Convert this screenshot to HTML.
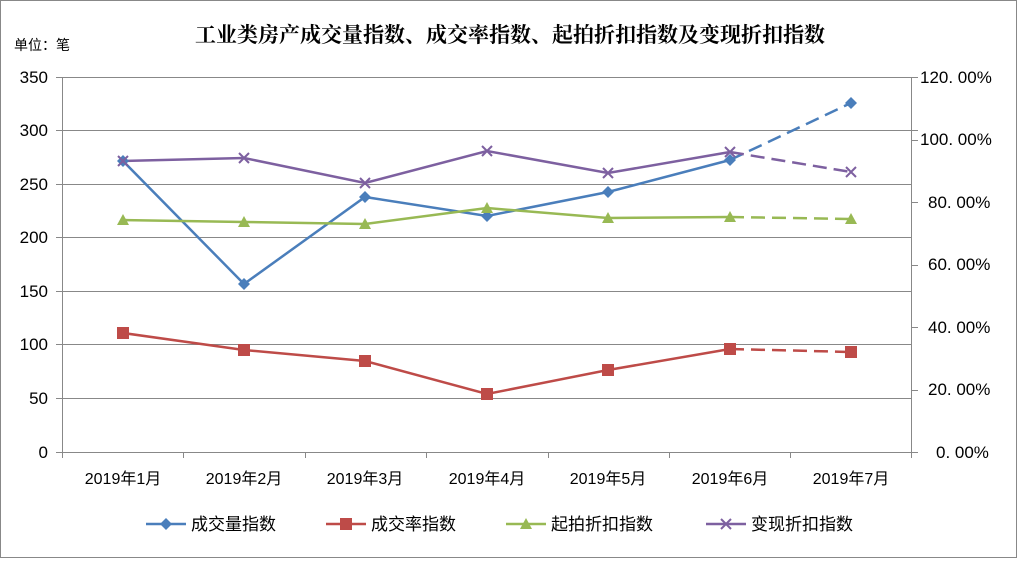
<!DOCTYPE html>
<html><head><meta charset="utf-8"><style>
body{margin:0;background:#fff}
svg text{font-family:"Liberation Sans","Noto Sans CJK SC",sans-serif;fill:#000}
</style></head><body>
<svg width="1017" height="558" xmlns="http://www.w3.org/2000/svg">
<rect x="0.5" y="0.5" width="1016" height="557" fill="#fff" stroke="#888"/>
<text x="510" y="42" font-size="21" font-weight="bold" text-anchor="middle" style="font-family:'Noto Serif CJK SC','Noto Sans CJK SC',serif">工业类房产成交量指数、成交率指数、起拍折扣指数及变现折扣指数</text>
<text x="14" y="50" font-size="14">单位：笔</text>
<g stroke="#888" stroke-width="1">
<line x1="56" y1="77.5" x2="918" y2="77.5"/>
<line x1="56" y1="130.5" x2="918" y2="130.5"/>
<line x1="56" y1="184.5" x2="912" y2="184.5"/>
<line x1="56" y1="237.5" x2="912" y2="237.5"/>
<line x1="56" y1="291.5" x2="912" y2="291.5"/>
<line x1="56" y1="344.5" x2="912" y2="344.5"/>
<line x1="56" y1="398.5" x2="912" y2="398.5"/>
<line x1="56" y1="452.5" x2="918" y2="452.5"/>
<line x1="912" y1="140.5" x2="918" y2="140.5"/>
<line x1="912" y1="202.5" x2="918" y2="202.5"/>
<line x1="912" y1="265.5" x2="918" y2="265.5"/>
<line x1="912" y1="327.5" x2="918" y2="327.5"/>
<line x1="912" y1="390.5" x2="918" y2="390.5"/>
<line x1="62.5" y1="77" x2="62.5" y2="452"/>
<line x1="911.5" y1="77" x2="911.5" y2="452"/>
<line x1="183.5" y1="452" x2="183.5" y2="458"/>
<line x1="305.5" y1="452" x2="305.5" y2="458"/>
<line x1="426.5" y1="452" x2="426.5" y2="458"/>
<line x1="548.5" y1="452" x2="548.5" y2="458"/>
<line x1="669.5" y1="452" x2="669.5" y2="458"/>
<line x1="790.5" y1="452" x2="790.5" y2="458"/>
<line x1="62.5" y1="452" x2="62.5" y2="458"/>
<line x1="911.5" y1="452" x2="911.5" y2="458"/>
</g>
<g font-size="17" text-anchor="end">
<text x="48" y="83">350</text><text x="48" y="136">300</text><text x="48" y="190">250</text>
<text x="48" y="243">200</text><text x="48" y="297">150</text><text x="48" y="350">100</text>
<text x="48" y="404">50</text><text x="48" y="458">0</text>
</g>
<g font-size="17">
<text x="920" y="83">120. 00%</text><text x="920" y="145">100. 00%</text><text x="928" y="208">80. 00%</text>
<text x="928" y="270">60. 00%</text><text x="928" y="333">40. 00%</text><text x="928" y="395">20. 00%</text>
<text x="936" y="458">0. 00%</text>
</g>
<g font-size="16" text-anchor="middle">
<text x="123" y="484">2019年1月</text><text x="244" y="484">2019年2月</text><text x="365" y="484">2019年3月</text>
<text x="487" y="484">2019年4月</text><text x="608" y="484">2019年5月</text><text x="730" y="484">2019年6月</text>
<text x="851" y="484">2019年7月</text>
</g>
<g fill="none" stroke-width="2.5">
<polyline stroke="#4a7ebb" points="123,161 244,284 365,197 487,216 608,192 730,160"/>
<polyline stroke="#4a7ebb" stroke-dasharray="14,7" points="730,160 851,103"/>
<polyline stroke="#be4b48" points="123,333 244,350 365,361 487,394 608,370 730,349"/>
<polyline stroke="#be4b48" stroke-dasharray="14,7" points="730,349 851,352"/>
<polyline stroke="#98b954" points="123,220 244,222 365,224 487,208 608,218 730,217"/>
<polyline stroke="#98b954" stroke-dasharray="14,7" points="730,217 851,219"/>
<polyline stroke="#7d60a0" points="123,161 244,158 365,183 487,151 608,173 730,152"/>
<polyline stroke="#7d60a0" stroke-dasharray="14,7" points="730,152 851,172"/>
</g>
<g fill="#4a7ebb">
<path d="M123,155l6,6-6,6-6-6z"/><path d="M244,278l6,6-6,6-6-6z"/><path d="M365,191l6,6-6,6-6-6z"/><path d="M487,210l6,6-6,6-6-6z"/><path d="M608,186l6,6-6,6-6-6z"/><path d="M730,154l6,6-6,6-6-6z"/><path d="M851,97l6,6-6,6-6-6z"/>
</g>
<g fill="#be4b48">
<rect x="117" y="327" width="12" height="12"/><rect x="238" y="344" width="12" height="12"/><rect x="359" y="355" width="12" height="12"/><rect x="481" y="388" width="12" height="12"/><rect x="602" y="364" width="12" height="12"/><rect x="724" y="343" width="12" height="12"/><rect x="845" y="346" width="12" height="12"/>
</g>
<g fill="#98b954">
<path d="M123,214l6,11h-12z"/><path d="M244,216l6,11h-12z"/><path d="M365,218l6,11h-12z"/><path d="M487,202l6,11h-12z"/><path d="M608,212l6,11h-12z"/><path d="M730,211l6,11h-12z"/><path d="M851,213l6,11h-12z"/>
</g>
<g stroke="#7d60a0" stroke-width="2">
<path d="M118,156l10,10M128,156l-10,10"/><path d="M239,153l10,10M249,153l-10,10"/><path d="M360,178l10,10M370,178l-10,10"/><path d="M482,146l10,10M492,146l-10,10"/><path d="M603,168l10,10M613,168l-10,10"/><path d="M725,147l10,10M735,147l-10,10"/><path d="M846,167l10,10M856,167l-10,10"/>
</g>
<g font-size="17">
<line x1="146" y1="524" x2="186" y2="524" stroke="#4a7ebb" stroke-width="2.5"/><path d="M166,518l6,6-6,6-6-6z" fill="#4a7ebb"/><text x="191" y="530">成交量指数</text>
<line x1="326" y1="524" x2="366" y2="524" stroke="#be4b48" stroke-width="2.5"/><rect x="340" y="518" width="12" height="12" fill="#be4b48"/><text x="371" y="530">成交率指数</text>
<line x1="506" y1="524" x2="546" y2="524" stroke="#98b954" stroke-width="2.5"/><path d="M526,518l6,11h-12z" fill="#98b954"/><text x="551" y="530">起拍折扣指数</text>
<line x1="706" y1="524" x2="746" y2="524" stroke="#7d60a0" stroke-width="2.5"/><path d="M721,519l10,10M731,519l-10,10" stroke="#7d60a0" stroke-width="2"/><text x="751" y="530">变现折扣指数</text>
</g>
</svg>
</body></html>
